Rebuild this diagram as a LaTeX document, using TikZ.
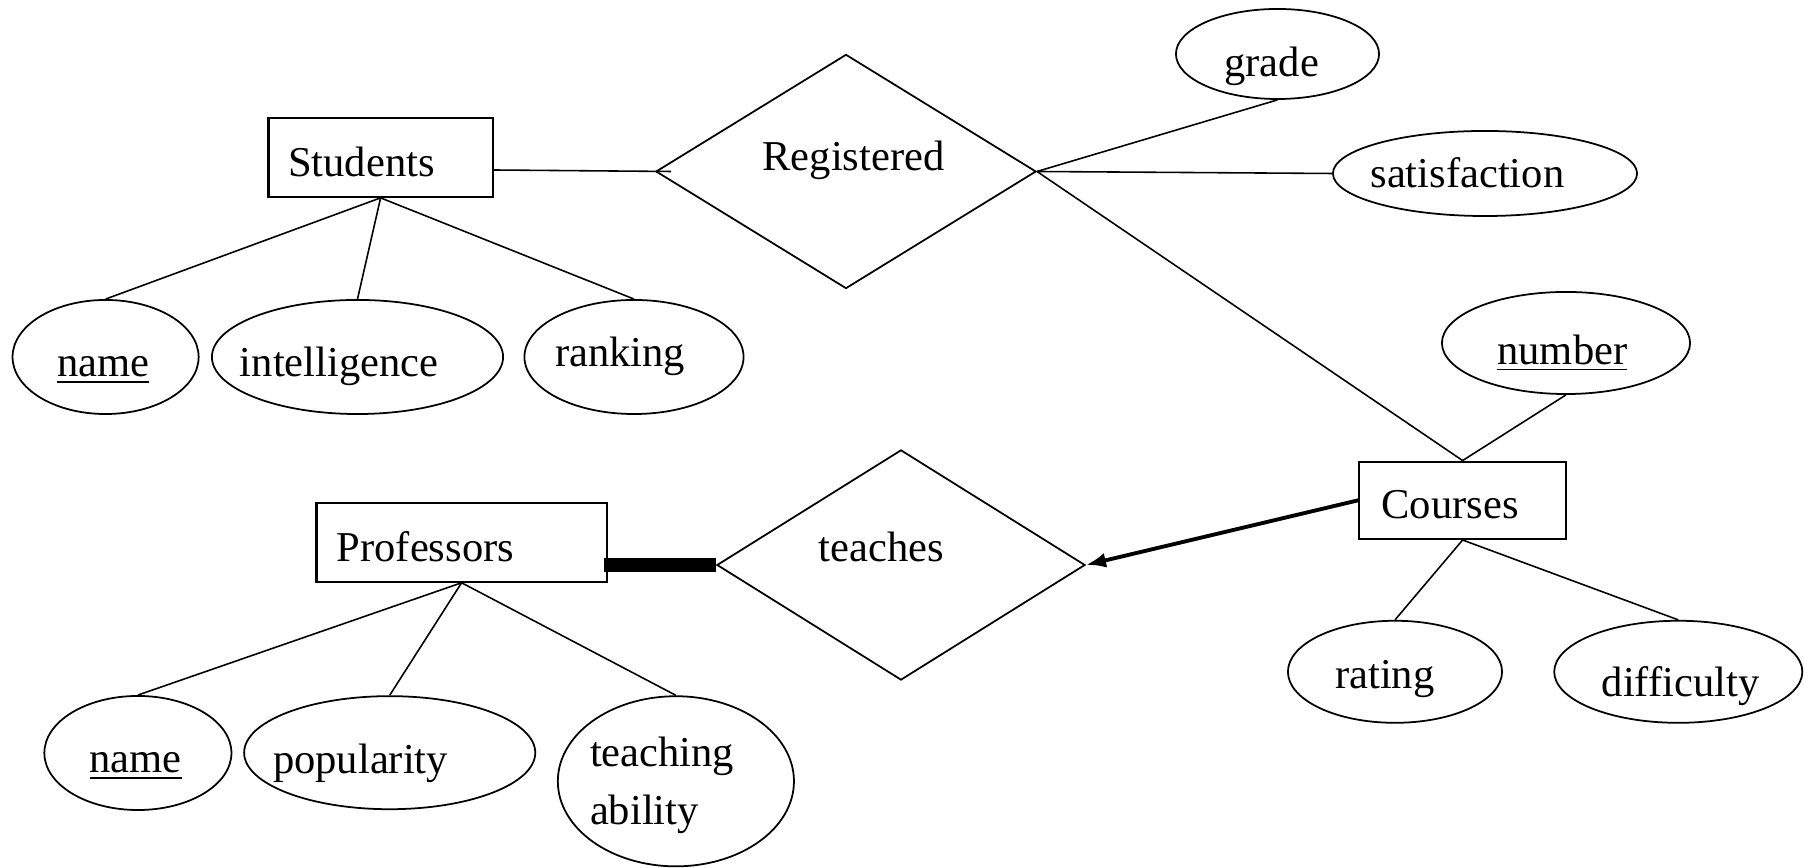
\documentclass[tikz,border=0pt]{standalone}
\usepackage{fontspec}
\setmainfont{Liberation Serif}
\usetikzlibrary{shapes.geometric,arrows.meta}
\begin{document}
\begin{tikzpicture}[x=0.01cm,y=-0.01cm,
  entity/.style={draw,line width=0.6pt,rectangle,inner sep=0pt},
  relship/.style={draw,line width=0.5pt,diamond,inner sep=0pt},
  attr/.style={draw,line width=0.5pt,ellipse,inner sep=0pt},
  conn/.style={line width=0.45pt},
  lbl/.style={anchor=base,inner sep=0pt,font=\fontsize{12.1}{15}\selectfont},
  lblw/.style={lbl,anchor=base west},
]
\useasboundingbox (0,0) rectangle (1814,868);

% entity sets
\node[entity,minimum width=2.24cm,minimum height=0.786cm] (stu) at (380.6,157.5) {};
\node[entity,minimum width=2.90cm,minimum height=0.784cm] (prof) at (461.6,542.5) {};
\node[entity,minimum width=2.064cm,minimum height=0.773cm] (cou) at (1462.6,500.3) {};

% relationship sets
\node[relship,minimum width=3.80cm,minimum height=2.34cm] (reg) at (846,171.5) {};
\node[relship,minimum width=3.68cm,minimum height=2.30cm] (tea) at (901,565) {};

% attributes
\node[attr,minimum width=1.86cm,minimum height=1.14cm] (sname) at (105.6,357) {};
\node[attr,minimum width=2.91cm,minimum height=1.14cm] (intel) at (357.5,357) {};
\node[attr,minimum width=2.19cm,minimum height=1.14cm] (rank) at (634,357) {};
\node[attr,minimum width=2.03cm,minimum height=0.90cm] (grade) at (1277.5,54) {};
\node[attr,minimum width=3.04cm,minimum height=0.85cm] (sat) at (1485,173.5) {};
\node[attr,minimum width=2.48cm,minimum height=1.02cm] (num) at (1566,343) {};
\node[attr,minimum width=2.14cm,minimum height=1.02cm] (rat) at (1395,671.8) {};
\node[attr,minimum width=2.48cm,minimum height=1.02cm] (dif) at (1678.3,671.8) {};
\node[attr,minimum width=1.87cm,minimum height=1.14cm] (pname) at (137.9,753) {};
\node[attr,minimum width=2.91cm,minimum height=1.13cm] (pop) at (389.7,752.7) {};
\node[attr,minimum width=2.36cm,minimum height=1.70cm] (tab) at (675.9,781.3) {};

% labels
\node[lbl] at (361.5,177) {Students};
\node[lbl] at (425.4,561.7) {Professors};
\node[lbl] at (1450,518.3) {Courses};
\node[lbl] at (853.5,171) {Registered};
\node[lbl] at (881.5,561.7) {teaches};
\node[lbl] at (103.4,376.7) {\underline{name}};
\node[lbl] at (339.2,376.7) {intelligence};
\node[lbl] at (620.1,366.7) {ranking};
\node[lbl] at (1271.7,76.7) {grade};
\node[lbl] at (1467.4,188) {satisfaction};
\node[lbl] at (1562.4,364.3) {\underline{number}};
\node[lbl] at (1384.8,688.3) {rating};
\node[lbl] at (1680.6,696.7) {difficulty};
\node[lbl] at (135.7,772.7) {\underline{name}};
\node[lbl] at (360.6,773.3) {popularity};
\node[lblw] at (589.3,766.7) {teaching};
\node[lblw] at (589.3,825) {ability};

% connectors
\draw[conn] ([yshift=-0.125cm]stu.east) -- ([xshift=0.16cm]reg.west);
\draw[conn] (reg.east) -- (grade.south);
\draw[conn] (reg.east) -- (sat.west);
\draw[conn] (reg.east) -- (cou.north);
\draw[conn] (num.south) -- (cou.north);
\draw[conn] (stu.south) -- (sname.north);
\draw[conn] (stu.south) -- (intel.north);
\draw[conn] (stu.south) -- (rank.north);
\draw[conn] (prof.south) -- (pname.north);
\draw[conn] (prof.south) -- (pop.north);
\draw[conn] (prof.south) -- (tab.north);
\draw[conn] (cou.south) -- (rat.north);
\draw[conn] (cou.south) -- (dif.north);
\draw[line width=1.1pt,-{Latex[length=0.2cm,width=0.15cm]}] (cou.west) -- (tea.east);
\draw[line width=3.8pt] ([xshift=-0.04cm]prof.east |- tea.west) -- (tea.west);
\end{tikzpicture}
\end{document}
